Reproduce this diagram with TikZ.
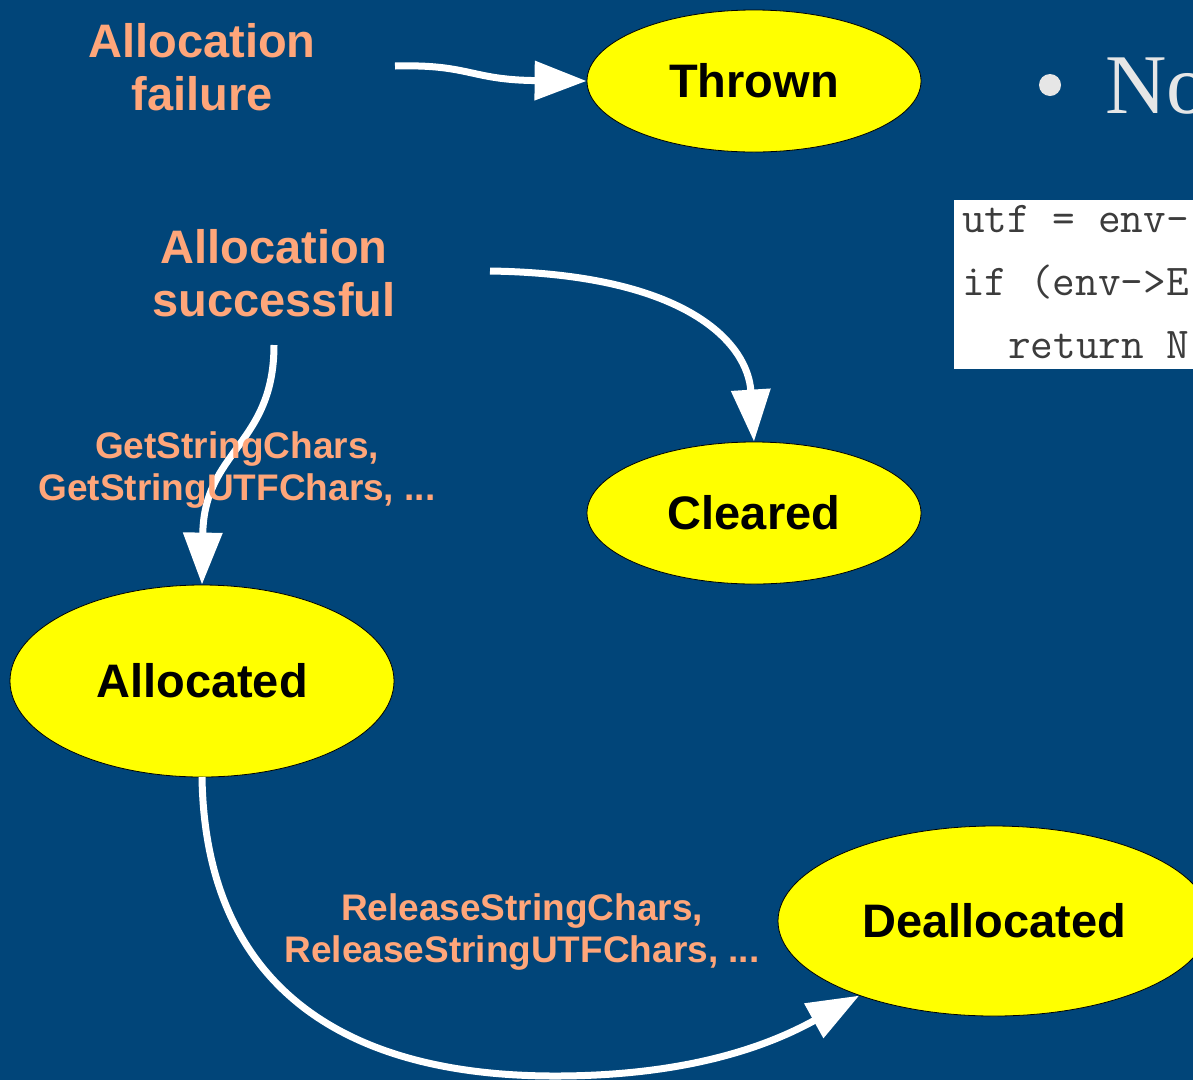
\documentclass[tikz,border=0pt]{standalone}
\usepackage{fontspec}
\setmainfont{Liberation Sans}
\newfontfamily\serffont{Liberation Serif}
\usetikzlibrary{shapes.geometric,arrows.meta}
\definecolor{slidebg}{RGB}{1,69,121}
\definecolor{lblorange}{RGB}{255,166,122}
\definecolor{bullgray}{RGB}{230,230,230}
\definecolor{codegray}{RGB}{60,60,60}
\definecolor{stateyellow}{RGB}{255,255,0}
\tikzset{
  statebox/.style={ellipse, draw=black, line width=0.8pt, fill=stateyellow, inner sep=0pt,
    font=\fontsize{47}{53}\selectfont\bfseries, text=black},
  lbl/.style={align=center, text=lblorange, font=\fontsize{47}{53}\selectfont\bfseries, inner sep=0pt},
  smalllbl/.style={align=center, text=lblorange, font=\fontsize{37}{42}\selectfont\bfseries, inner sep=0pt},
  flow/.style={draw=white, line width=7pt, -{Triangle[length=52pt,width=38pt]}},
  codeline/.style={anchor=base west, inner sep=0pt, text=codegray, font=\fontsize{44}{46}\ttfamily},
}
\begin{document}
\begin{tikzpicture}[x=1pt,y=-1pt]
\fill[slidebg] (0,0) rectangle (1193,1080);
\useasboundingbox (0,0) rectangle (1193,1080);
\clip (0,0) rectangle (1193,1080);

% states
\node[statebox, minimum width=334pt, minimum height=142pt] (thrown) at (754,81) {Thrown};
\node[statebox, minimum width=334pt, minimum height=142pt] (cleared) at (754,513) {Cleared};
\node[statebox, minimum width=384pt, minimum height=192pt] (allocated) at (202,681) {Allocated};
\node[statebox, minimum width=432pt, minimum height=190pt] (dealloc) at (994,921) {Deallocated};

% bullet and code snippet
\node[circle, fill=bullgray, minimum size=22pt, inner sep=0pt] (bullet) at (1050,85) {};
\node[anchor=base west, inner sep=0pt, text=bullgray, font=\fontsize{85}{90}\serffont] (note) at (1105,113) {No};
\node[fill=white, anchor=north west, minimum width=300pt, minimum height=169pt, inner sep=0pt] (code) at (954,200) {};
\node[codeline] (c1) at (962,232) {utf = env-};
\node[codeline] (c2) at (962,295) {if (env->E};
\node[codeline] (c3) at (1008,358) {return N};

% free ends of connectors
\coordinate (failout) at (395,66);
\coordinate (succout) at (490,271);
\coordinate (succdown) at (274,345);
\coordinate (allocout) at (202,777);

% connectors
\draw[flow] (failout) .. controls (470,64) and (470,80) .. (thrown.west);
\draw[flow] (succout) .. controls (690,274) and (748,345) .. (cleared.north);
\draw[flow] (succdown) .. controls (274,445) and (204,450) .. (allocated.north);
\draw[flow] (allocout) .. controls (205,975) and (330,1076) .. (555,1076)
  .. controls (690,1076) and (770,1045) .. (dealloc);

% labels
\node[lbl] (fail) at (202,67) {Allocation\\failure};
\node[lbl] (succ) at (274,273) {Allocation\\successful};
\node[smalllbl] (getlbl) at (237,470) {GetStringChars,\\GetStringUTFChars, ...};
\node[smalllbl] (rellbl) at (522,932) {ReleaseStringChars,\\ReleaseStringUTFChars, ...};
\end{tikzpicture}
\end{document}
